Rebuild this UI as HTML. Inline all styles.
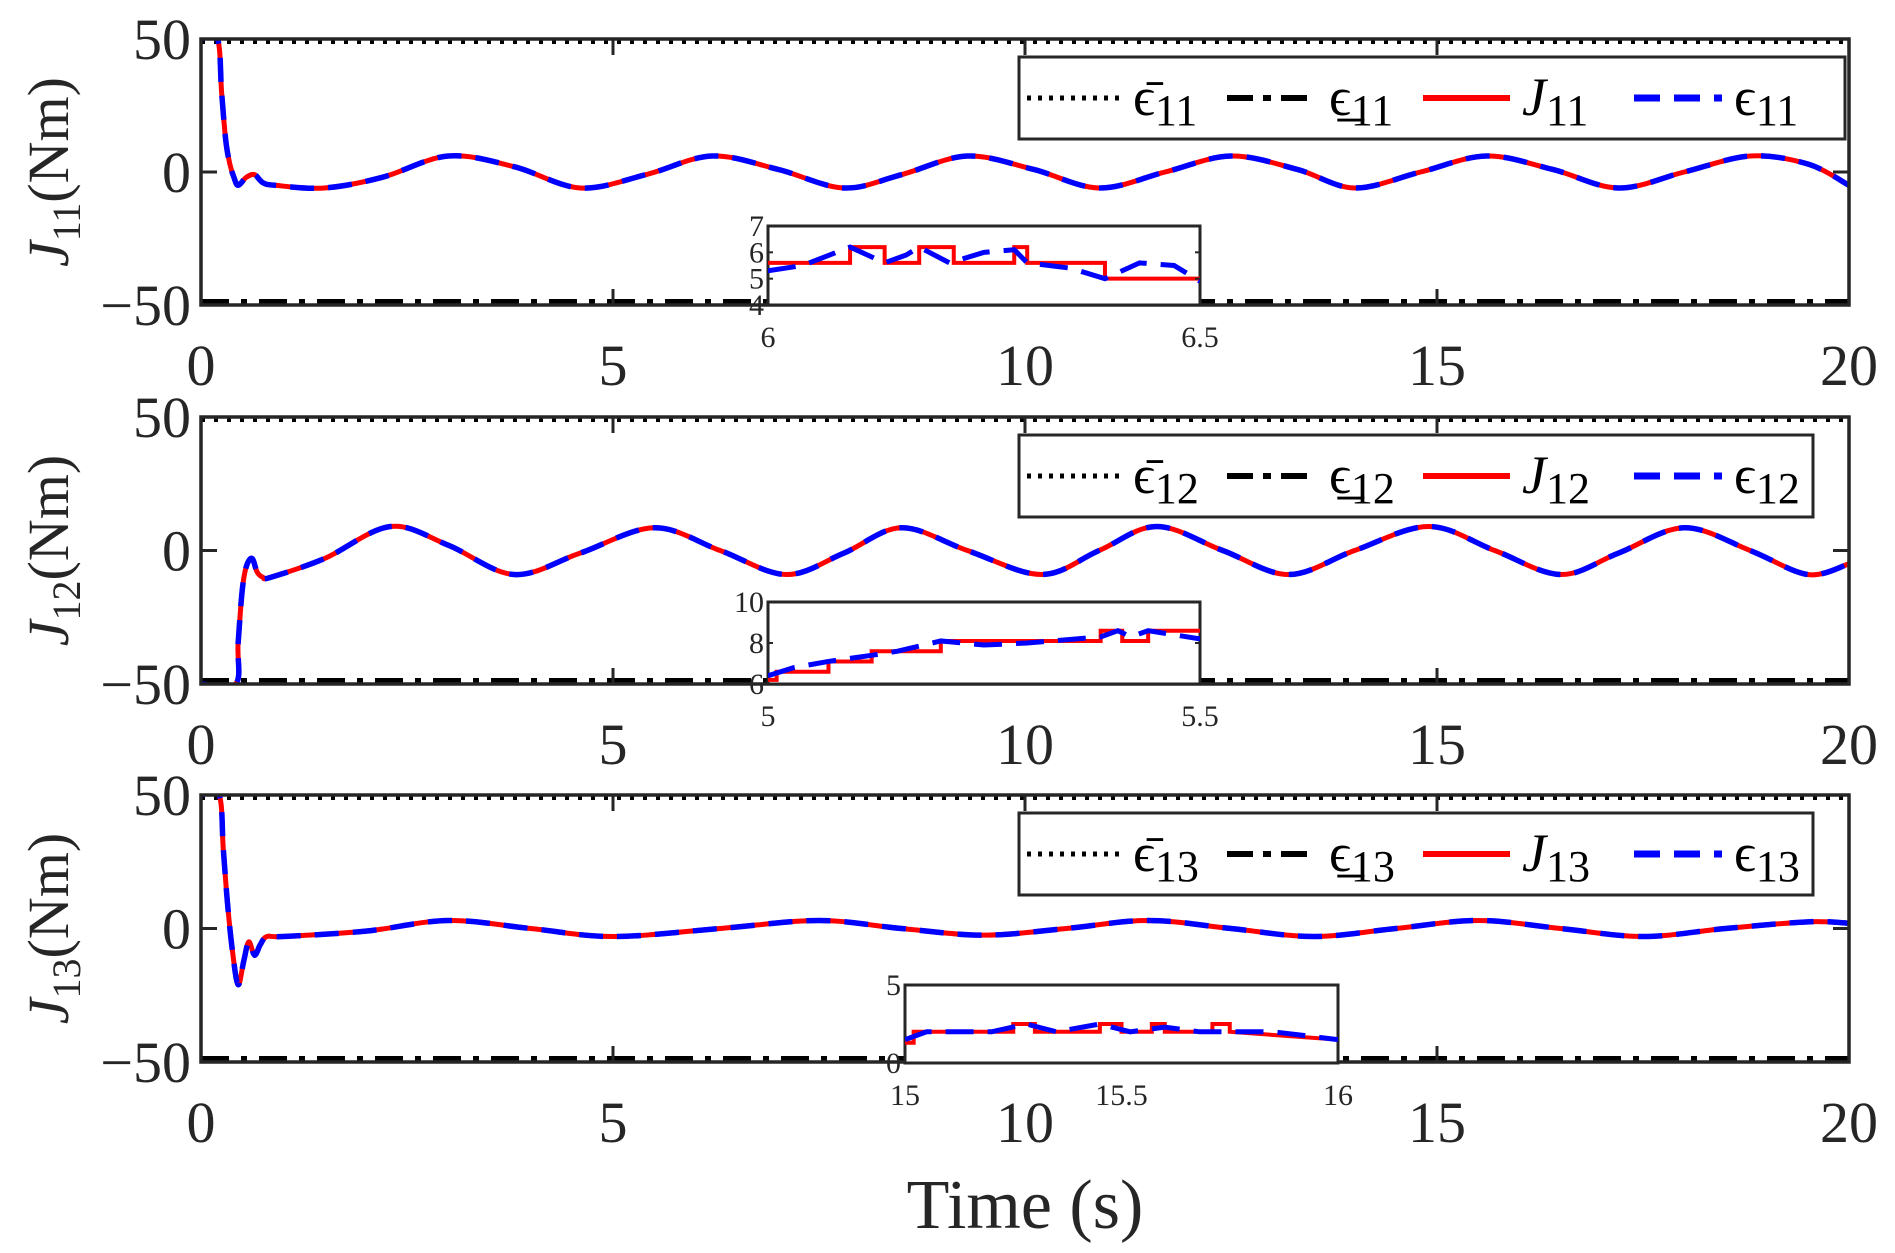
<!DOCTYPE html>
<html><head><meta charset="utf-8"><style>
html,body{margin:0;padding:0;background:#fff}
svg{display:block;font-family:"Liberation Serif",serif}
</style></head><body>
<svg id="c" width="1895" height="1253" viewBox="0 0 1895 1253"></svg>
<script>
// ---- data ----
const xTicks=[0,5,10,15,20];
const yTicks=[-50,0,50];
const p1T=[0,0.2,0.25,0.3,0.35,0.4,0.45,0.55,0.65,0.75,0.9,1.5,2.2,3.0,3.8,4.6,5.4,6.2,7.0,7.8,8.5,9.3,10.1,10.9,11.7,12.5,13.3,14.0,14.8,15.6,16.4,17.2,18.0,18.8,19.5,20];
const p1V=[50,50,30,12,3,-2,-5,-2,-1,-4,-5,-6,-2,6,2,-6,-1,6,1,-6,-1,6,1,-6,0,6,1,-6,0,6,1,-6,0,6,3,-5];
const p2T=[0,0.42,0.45,0.5,0.55,0.62,0.68,0.75,0.85,1.5,2.3,3.0,3.8,4.6,5.5,6.3,7.1,7.8,8.5,9.3,10.2,10.9,11.6,12.4,13.2,14.0,14.9,15.7,16.5,17.2,18.0,18.8,19.5,20];
const p2V=[-50,-50,-35,-15,-6,-3,-8,-10,-10,-3,9,2,-9,-1,8.5,0,-9,-1,8.5,0,-9,0,9,0,-9,0,9,0,-9,-1,8.5,0,-9,-5];
const p3T=[0,0.22,0.27,0.32,0.38,0.45,0.52,0.58,0.65,0.72,0.8,1.0,2.0,3.0,4.0,5.0,6.3,7.5,8.5,9.5,10.5,11.5,12.5,13.5,14.5,15.5,16.5,17.5,18.5,19.5,20];
const p3V=[50,50,30,10,-8,-21,-12,-5,-10,-6,-3,-3,-1,3,0,-3,0,3,0,-2.5,0,3,0,-3,0,3,0,-3,0,2.5,2];
const in1RedT=[6.0,6.095,6.095,6.135,6.135,6.175,6.175,6.215,6.215,6.285,6.285,6.3,6.3,6.39,6.39,6.5];
const in1RedV=[5.6,5.6,6.2,6.2,5.6,5.6,6.2,6.2,5.6,5.6,6.2,6.2,5.6,5.6,5.0,5.0];
const in1BlueT=[6.0,6.04,6.095,6.135,6.16,6.175,6.21,6.25,6.285,6.3,6.35,6.39,6.43,6.47,6.5];
const in1BlueV=[5.3,5.5,6.2,5.6,5.9,6.2,5.6,6.0,6.1,5.6,5.4,5.0,5.6,5.5,4.9];
const in2RedT=[5.0,5.01,5.01,5.07,5.07,5.12,5.12,5.2,5.2,5.385,5.385,5.41,5.41,5.44,5.44,5.5];
const in2RedV=[6.2,6.2,6.6,6.6,7.1,7.1,7.6,7.6,8.1,8.1,8.6,8.6,8.1,8.1,8.6,8.6];
const in2BlueT=[5.0,5.03,5.07,5.12,5.15,5.2,5.25,5.3,5.385,5.405,5.42,5.44,5.5];
const in2BlueV=[6.4,6.8,7.1,7.4,7.6,8.1,7.9,8.0,8.3,8.6,8.3,8.6,8.2];
const in3RedT=[15.0,15.02,15.02,15.25,15.25,15.3,15.3,15.45,15.45,15.5,15.5,15.57,15.57,15.6,15.6,15.71,15.71,15.75,15.75,16.0];
const in3RedV=[1.3,1.3,2,2,2.5,2.5,2,2,2.5,2.5,2,2,2.5,2.5,2,2,2.5,2.5,2,1.5];
const in3BlueT=[15.0,15.05,15.2,15.28,15.35,15.45,15.52,15.6,15.68,15.75,15.85,16.0];
const in3BlueV=[1.5,2.0,2.0,2.5,2.0,2.5,2.0,2.3,2.0,2.0,2.0,1.5];

const NS="http://www.w3.org/2000/svg";
const svg=document.getElementById('c');
function el(tag,attrs,parent){const e=document.createElementNS(NS,tag);for(const k in attrs)e.setAttribute(k,attrs[k]);(parent||svg).appendChild(e);return e;}
function smooth(pts){let d=`M${pts[0][0]},${pts[0][1]}`;for(let i=0;i<pts.length-1;i++){const p0=pts[Math.max(0,i-1)],p1=pts[i],p2=pts[i+1],p3=pts[Math.min(pts.length-1,i+2)];const c1=[p1[0]+(p2[0]-p0[0])/6,p1[1]+(p2[1]-p0[1])/6],c2=[p2[0]-(p3[0]-p1[0])/6,p2[1]-(p3[1]-p1[1])/6];d+=`C${c1[0]},${c1[1]} ${c2[0]},${c2[1]} ${p2[0]},${p2[1]}`;}return d;}
function poly(pts){return 'M'+pts.map(p=>p[0]+','+p[1]).join('L');}

const L=201,R=1849;
const panels=[{top:39,bot:305,T:p1T,V:p1V,sub:'11',lx1:1845,inset:{x0:768,x1:1200,y0:226,y1:305,tmin:6,tmax:6.5,vmin:4,vmax:7,yt:[4,5,6,7],xt:[6,6.5],rT:in1RedT,rV:in1RedV,bT:in1BlueT,bV:in1BlueV}},
{top:417,bot:684,T:p2T,V:p2V,sub:'12',lx1:1813,inset:{x0:768,x1:1200,y0:602,y1:684,tmin:5,tmax:5.5,vmin:6,vmax:10,yt:[6,8,10],xt:[5,5.5],rT:in2RedT,rV:in2RedV,bT:in2BlueT,bV:in2BlueV}},
{top:795,bot:1062,T:p3T,V:p3V,sub:'13',lx1:1813,inset:{x0:905,x1:1338,y0:985,y1:1063,tmin:15,tmax:16,vmin:0,vmax:5,yt:[0,5],xt:[15,15.5,16],rT:in3RedT,rV:in3RedV,bT:in3BlueT,bV:in3BlueV}}];

panels.forEach((p,pi)=>{
  const g=el('g',{});
  
  
  const sx=t=>L+(t-0)/20*(R-L), sy=v=>p.bot-(v+50)/100*(p.bot-p.top);
  const clipId='clip'+pi;
  const cp=el('clipPath',{id:clipId},g);el('rect',{x:L,y:p.top,width:R-L,height:p.bot-p.top},cp);
  const ub=el('line',{x1:L,x2:R,y1:sy(50)+3,y2:sy(50)+3,stroke:'#000','stroke-width':4,'stroke-dasharray':'4 9'},g);
  
  const lb=el('line',{x1:L,x2:R,y1:sy(-50)-3,y2:sy(-50)-3,stroke:'#000','stroke-width':6,'stroke-dasharray':'28 12 6 12'},g);
  
  const pts=p.T.map((t,i)=>[sx(t),sy(p.V[i])]);
  const d=smooth(pts);
  const red=el('path',{d:d,fill:'none',stroke:'#ff0000','stroke-width':5,'clip-path':`url(#${clipId})`},g);
  
  const blue=el('path',{d:d,fill:'none',stroke:'#0000ff','stroke-width':5.5,'stroke-dasharray':'24 14','clip-path':`url(#${clipId})`},g);
  
  el('rect',{x:L,y:p.top,width:R-L,height:p.bot-p.top,fill:'none',stroke:'#262626','stroke-width':3.5},g);
  xTicks.forEach(t=>{
    el('line',{x1:sx(t),x2:sx(t),y1:p.bot,y2:p.bot-16,stroke:'#262626','stroke-width':3},g);
    el('line',{x1:sx(t),x2:sx(t),y1:p.top,y2:p.top+16,stroke:'#262626','stroke-width':3},g);
    const tx=el('text',{x:sx(t),y:p.bot+80,'font-size':58,'text-anchor':'middle',fill:'#262626'},g);tx.textContent=t;
    
  });
  yTicks.forEach(v=>{
    el('line',{x1:L,x2:L+16,y1:sy(v),y2:sy(v),stroke:'#262626','stroke-width':3},g);
    el('line',{x1:R,x2:R-16,y1:sy(v),y2:sy(v),stroke:'#262626','stroke-width':3},g);
    const ty=el('text',{x:L-10,y:sy(v)+20,'font-size':58,'text-anchor':'end',fill:'#262626'},g);ty.textContent=v<0?'\u2212'+(-v):v;
    
  });
  const cy=(p.top+p.bot)/2;
  const yl=el('text',{x:0,y:0,'font-size':58,'text-anchor':'middle',fill:'#262626',transform:`translate(68,${cy}) rotate(-90)`},g);
  yl.innerHTML=`<tspan font-style="italic">J</tspan><tspan font-size="40" dy="12">${p.sub}</tspan><tspan dy="-12">(Nm)</tspan>`;
  
  const ly0=p.top+18, lh=82, lx0=1019, lx1=p.lx1, lc=ly0+lh/2;
  const lg=el('g',{},g);
  
  el('rect',{x:lx0,y:ly0,width:lx1-lx0,height:lh,fill:'#fff',stroke:'#262626','stroke-width':3},lg);
  const ent=[[1027,1121,{stroke:'#000','stroke-width':5,'stroke-dasharray':'4 7'},'bar'],[1227,1317,{stroke:'#000','stroke-width':6,'stroke-dasharray':'26 10 8 10'},'under'],[1423,1510,{stroke:'#ff0000','stroke-width':6},'J'],[1634,1722,{stroke:'#0000ff','stroke-width':7,'stroke-dasharray':'26 14'},'eps']];
  ent.forEach(e=>{
    const a=Object.assign({x1:e[0],x2:e[1],y1:lc,y2:lc},e[2]);el('line',a,lg);
    const t=el('text',{x:e[1]+12,y:lc+17,'font-size':54,fill:'#000'},lg);
    if(e[3]==='bar')t.innerHTML=`\u03F5\u0304<tspan font-size="44" dy="10">${p.sub}</tspan>`;
    else if(e[3]==='under')t.innerHTML=`\u03F5\u0332<tspan font-size="44" dy="10">${p.sub}</tspan>`;
    else if(e[3]==='J')t.innerHTML=`<tspan font-style="italic">J</tspan><tspan font-size="44" dy="10">${p.sub}</tspan>`;
    else t.innerHTML=`\u03F5<tspan font-size="44" dy="10">${p.sub}</tspan>`;
    
  });
  const q=p.inset;
  const ig=el('g',{},g);
  
  const ix=t=>q.x0+(t-q.tmin)/(q.tmax-q.tmin)*(q.x1-q.x0), iy=v=>q.y1-(v-q.vmin)/(q.vmax-q.vmin)*(q.y1-q.y0);
  el('rect',{x:q.x0,y:q.y0,width:q.x1-q.x0,height:q.y1-q.y0,fill:'#fff',stroke:'#262626','stroke-width':3},ig);
  const icid='iclip'+pi;const icp=el('clipPath',{id:icid},ig);el('rect',{x:q.x0,y:q.y0,width:q.x1-q.x0,height:q.y1-q.y0},icp);
  const ir=el('path',{d:poly(q.rT.map((t,i)=>[ix(t),iy(q.rV[i])])),fill:'none',stroke:'#ff0000','stroke-width':4,'clip-path':`url(#${icid})`},ig);
  
  const ib=el('path',{d:poly(q.bT.map((t,i)=>[ix(t),iy(q.bV[i])])),fill:'none',stroke:'#0000ff','stroke-width':5,'stroke-dasharray':'28 14','clip-path':`url(#${icid})`},ig);
  
  q.yt.forEach(v=>{
    el('line',{x1:q.x0,x2:q.x0+5,y1:iy(v),y2:iy(v),stroke:'#262626','stroke-width':2},ig);
    el('line',{x1:q.x1,x2:q.x1-5,y1:iy(v),y2:iy(v),stroke:'#262626','stroke-width':2},ig);
    const t=el('text',{x:q.x0-4,y:iy(v)+10,'font-size':30,'text-anchor':'end',fill:'#262626'},ig);t.textContent=v;
  });
  q.xt.forEach(v=>{
    const t=el('text',{x:ix(v),y:q.y1+42,'font-size':30,'text-anchor':'middle',fill:'#262626'},ig);t.textContent=v;
  });
});
const xt=el('text',{x:1025,y:1228,'font-size':70,'text-anchor':'middle',fill:'#262626'});
xt.textContent='Time (s)';


</script>
</body></html>
